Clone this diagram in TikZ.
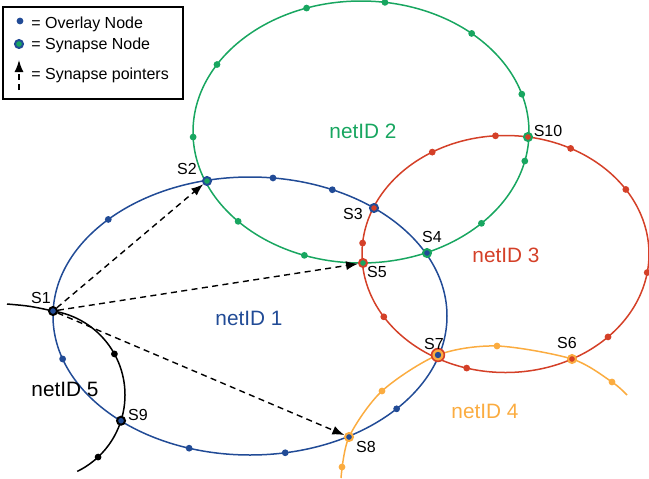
\documentclass[tikz,border=0pt]{standalone}
\usepackage{fontspec}
\setmainfont{Liberation Sans}
\usetikzlibrary{arrows.meta, calc, positioning}

\definecolor{netblue}{RGB}{33,75,150}
\definecolor{netgreen}{RGB}{24,166,96}
\definecolor{netred}{RGB}{212,64,40}
\definecolor{netorange}{RGB}{251,172,64}

\tikzstyle{ring} = [line width=0.75pt]
\tikzstyle{pointer} = [line width=0.7pt, dash pattern=on 3pt off 2.2pt,
	-{Latex[length=6pt,width=4.5pt]}]
\tikzstyle{slabel} = [font=\fontsize{8}{9}\selectfont, inner sep=0pt]
\tikzstyle{netlabel} = [font=\fontsize{10.4}{12}\selectfont, inner sep=0pt]
\tikzstyle{legtext} = [font=\fontsize{8}{9}\selectfont, inner sep=0pt,
	anchor=base west]
\tikzset{
	ovl/.style={circle, inner sep=0pt, minimum size=3.4pt, fill=#1},
	syn/.style 2 args={circle, inner sep=0pt, minimum size=4pt,
		line width=1pt, fill=#1, draw=#2},
	triple/.style={circle, inner sep=0pt, minimum size=6.4pt,
		line width=0.8pt, draw=netred, fill=netorange,
		path picture={\fill [netblue] (path picture bounding box.center)
			circle (1.6pt);}}
}

\begin{document}
\begin{tikzpicture}[x=0.5pt, y=-0.5pt]
	\useasboundingbox (0,0) rectangle (649,478);
	% ring centres
	\coordinate (c1) at (250,316);
	\coordinate (c2) at (361,132);
	\coordinate (c3) at (505.5,254);
	\coordinate (c5) at (40,395);
	% rings
	\draw [ring, netgreen] (c2) ellipse [x radius=168, y radius=131];
	\draw [ring, netblue] (c1) ellipse [x radius=197, y radius=139];
	\draw [ring, netred] (c3) ellipse [x radius=143.5, y radius=118.5];
	\draw [ring, netorange] plot [smooth] coordinates {(341,478) (349,437)
		(382,391) (438,355) (497,346) (572,359) (612,382) (627,395)};
	\draw [ring, black] (7,304) .. controls (30,306) .. ($(c5)+(-81.2:85)$)
		arc [start angle=-81.2, end angle=64, radius=85];
	% overlay nodes
	\foreach \a [count=\i] in {162,224,276.7,294.7,41.9,79.7,108}
		\node [ovl=netblue] (b\i) at ($(c1)+(\a:197 and 139)$) {};
	\foreach \a [count=\i] in {278.2,251.1,211,311.2,343.2,177.8,137,109.7,44.2,12.8}
		\node [ovl=netgreen] (g\i) at ($(c2)+(\a:168 and 131)$) {};
	\foreach \a [count=\i] in {185.3,239.3,266,297,327,9,44.4,105.7,148}
		\node [ovl=netred] (r\i) at ($(c3)+(\a:143.5 and 118.5)$) {};
	\foreach \p [count=\i] in {(342,467),(382,391),(497,346),(612,382)}
		\node [ovl=netorange] (o\i) at \p {};
	\node [ovl=black] (k1) at ($(c5)+(-28.9:85)$) {};
	\node [ovl=black] (k2) at ($(c5)+(46.9:85)$) {};
	% synapse nodes
	\node [syn={netblue}{black}] (S1) at ($(c5)+(-81.2:85)$) {};
	\node [syn={netgreen}{netblue}] (S2) at (207,181) {};
	\node [syn={netred}{netblue}] (S3) at (374,208) {};
	\node [syn={netblue}{netgreen}] (S4) at (427,253) {};
	\node [syn={netgreen}{netred}] (S5) at (363,263) {};
	\node [syn={netred}{netorange}] (S6) at (572,359) {};
	\node [triple] (S7) at (438,355) {};
	\node [syn={netblue}{netorange}] (S8) at (349,437) {};
	\node [syn={netblue}{black}] (S9) at ($(c5)+(17.6:85)$) {};
	\node [syn={netred}{netgreen}] (S10) at (528,137) {};
	% synapse pointers
	\draw [pointer] (S1) -- (S2);
	\draw [pointer] (S1) -- (S5);
	\draw [pointer] (S1) -- (S8);
	% labels
	\node [slabel] (S1l) at (41,298) {S1};
	\node [slabel] (S2l) at (187,169) {S2};
	\node [slabel] (S3l) at (353,214) {S3};
	\node [slabel] (S4l) at (432,237) {S4};
	\node [slabel] (S5l) at (377,272) {S5};
	\node [slabel] (S6l) at (567,343) {S6};
	\node [slabel] (S7l) at (434,344) {S7};
	\node [slabel] (S8l) at (366,447) {S8};
	\node [slabel] (S9l) at (138,415) {S9};
	\node [slabel] (S10l) at (548,131) {S10};
	\node [netlabel, netblue] (net1) at (249,318) {netID 1};
	\node [netlabel, netgreen] (net2) at (363,131) {netID 2};
	\node [netlabel, netred] (net3) at (506,255) {netID 3};
	\node [netlabel, netorange] (net4) at (485,411) {netID 4};
	\node [netlabel] (net5) at (65,389) {netID 5};
	% legend
	\node [draw, line width=0.75pt, minimum width=90pt, minimum height=46pt,
		inner sep=0pt] (legend) at (93,53) {};
	\node [ovl=netblue] (lg1) at (20,21) {};
	\node [syn={netgreen}{netblue}] (lg2) at (19,44) {};
	\coordinate (lg3a) at (19,90);
	\coordinate (lg3b) at (19,60);
	\draw [pointer] (lg3a) -- (lg3b);
	\node [legtext] (lt1) at (31,28) {= Overlay Node};
	\node [legtext] (lt2) at (31,49) {= Synapse Node};
	\node [legtext] (lt3) at (31,79) {= Synapse pointers};
\end{tikzpicture}
\end{document}
